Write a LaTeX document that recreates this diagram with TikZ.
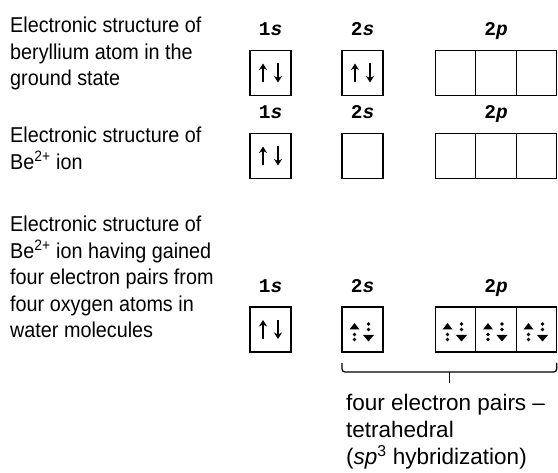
\documentclass[tikz,border=0pt]{standalone}
\usepackage{fontspec}
\setmainfont{Liberation Sans}
\newfontfamily\descfont[FakeStretch=0.92]{Liberation Sans}
\newfontfamily\orbfont{Liberation Mono}
\usetikzlibrary{positioning,calc,arrows.meta}
\tikzset{ORBITAL/.style={rectangle,draw,line width=1.3pt,minimum width=41pt,minimum height=45pt,inner sep=0pt,outer sep=0pt}}
\tikzset{SHELL/.style={font=\orbfont\fontsize{19.5}{19.5}\selectfont\bfseries,inner sep=0pt,anchor=base}}
\tikzset{DESC/.style={align=left,inner sep=0pt,anchor=north west,font=\descfont\fontsize{21.5}{26.5}\selectfont}}
\tikzset{NOTE/.style={align=left,inner sep=0pt,anchor=north west,font=\fontsize{22.5}{27}\selectfont}}
\tikzset{ELECTRON/.style={line width=2pt,-{Stealth[length=6.5pt,width=8pt]}}}
\tikzset{BRACE/.style={line width=1.3pt,rounded corners=3pt}}

\begin{document}
\begin{tikzpicture}[x=1pt,y=1pt]
\useasboundingbox (0,0) rectangle (558,-473);

% ground state
\node[ORBITAL] (n_r1_1s) at (270.5,-73) {};
\node[ORBITAL] (n_r1_2s) at (362.5,-73) {};
\node[ORBITAL, minimum width=40.5pt] (n_r1_2p1) at (455.5,-73) {};
\node[ORBITAL, minimum width=40.5pt, right=0pt of n_r1_2p1] (n_r1_2p2) {};
\node[ORBITAL, minimum width=40.5pt, right=0pt of n_r1_2p2] (n_r1_2p3) {};

% Be2+ ion
\node[ORBITAL] (n_r2_1s) at (270.5,-156) {};
\node[ORBITAL] (n_r2_2s) at (362.5,-156) {};
\node[ORBITAL, minimum width=40.5pt] (n_r2_2p1) at (455.5,-156) {};
\node[ORBITAL, minimum width=40.5pt, right=0pt of n_r2_2p1] (n_r2_2p2) {};
\node[ORBITAL, minimum width=40.5pt, right=0pt of n_r2_2p2] (n_r2_2p3) {};

% Be2+ ion with four pairs
\node[ORBITAL] (n_r3_1s) at (270.5,-329.5) {};
\node[ORBITAL] (n_r3_2s) at (362.5,-329.5) {};
\node[ORBITAL, minimum width=40.5pt] (n_r3_2p1) at (455.5,-329.5) {};
\node[ORBITAL, minimum width=40.5pt, right=0pt of n_r3_2p1] (n_r3_2p2) {};
\node[ORBITAL, minimum width=40.5pt, right=0pt of n_r3_2p2] (n_r3_2p3) {};

\foreach \row in {r1,r2,r3}{
    \node[SHELL] (n_\row_1s_lbl) at ($(n_\row_1s.north)+(0,14.5)$) {1\textit{s}};
    \node[SHELL] (n_\row_2s_lbl) at ($(n_\row_2s.north)+(0,14.5)$) {2\textit{s}};
    \node[SHELL] (n_\row_2p_lbl) at ($(n_\row_2p2.north)+(0,14.5)$) {2\textit{p}};
}

\foreach \cell in {n_r1_1s,n_r1_2s,n_r2_1s,n_r3_1s}{
    \draw[ELECTRON] ($(\cell.center)+(-7.5,-9.5)$) -- ($(\cell.center)+(-7.5,9.5)$);
    \draw[ELECTRON] ($(\cell.center)+(7.5,9.5)$) -- ($(\cell.center)+(7.5,-9.5)$);
}

\foreach \cell in {n_r3_2s,n_r3_2p1,n_r3_2p2,n_r3_2p3}{
    \fill ($(\cell.center)+(-8,6.5)$) -- ++(-5,-6.5) -- ++(10,0) -- cycle;
    \fill ($(\cell.center)+(-8,-5)$) circle (1.8);
    \fill ($(\cell.center)+(-8,-10)$) circle (1.8);
    \fill ($(\cell.center)+(6,5.5)$) circle (1.8);
    \fill ($(\cell.center)+(6,0)$) circle (1.8);
    \fill ($(\cell.center)+(6,-12)$) -- ++(-5.5,6.5) -- ++(11,0) -- cycle;
}

\coordinate (c_brace_left) at ($(n_r3_2s.south west)+(0,-11)$);
\coordinate (c_brace_right) at ($(n_r3_2p3.south east)+(0,-11)$);
\draw[BRACE] (c_brace_left) |- ($(c_brace_right)+(0,-9)$) -- (c_brace_right);
\coordinate (c_brace_mid) at ($(c_brace_left)!0.5!(c_brace_right)+(0,-9)$);
\draw[line width=1.3pt] (c_brace_mid) -- ++(0,-11);

\node[DESC] (n_desc_ground) at (10,-17) {Electronic structure of\\beryllium atom in the\\ground state};
\node[DESC] (n_desc_ion) at (10,-127) {Electronic structure of\\Be\textsuperscript{2+} ion};
\node[DESC] (n_desc_water) at (10,-216) {Electronic structure of\\Be\textsuperscript{2+} ion having gained\\four electron pairs from\\four oxygen atoms in\\water molecules};

\node[NOTE] (n_note) at ($(n_r3_2s.south west)+(4,-42)$) {four electron pairs --\\tetrahedral\\(\textit{sp}\textsuperscript{3} hybridization)};

\end{tikzpicture}
\end{document}
